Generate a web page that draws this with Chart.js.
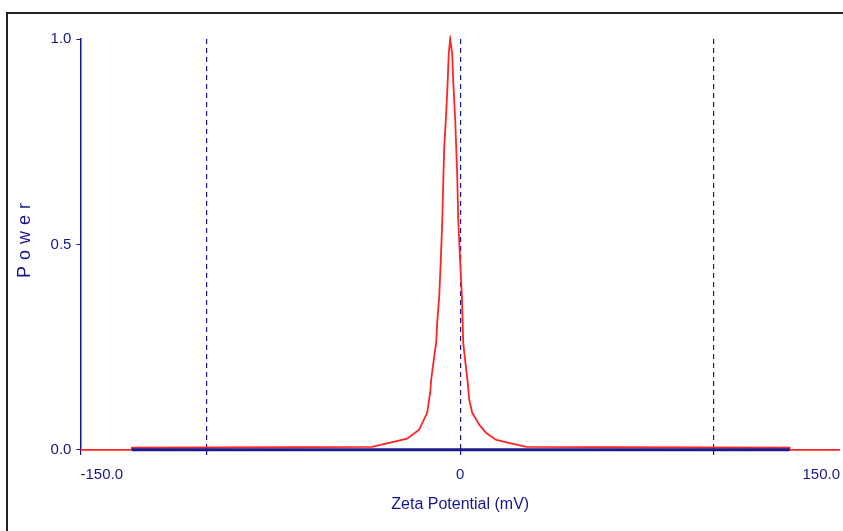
<!DOCTYPE html>
<html>
<head>
<meta charset="utf-8">
<script src="https://cdn.jsdelivr.net/npm/chart.js@4.4.1/dist/chart.umd.min.js"></script>
<style>
  html, body { margin: 0; padding: 0; background: #fff; overflow: hidden; }
  #frame { position: absolute; left: 6px; top: 12px; width: 900px; height: 600px;
           border-top: 2px solid #222; border-left: 2px solid #222; pointer-events: none; }
  canvas { position: absolute; left: 0; top: 0; }
</style>
</head>
<body>
<canvas id="zetaChart" width="848" height="531"></canvas>
<div id="frame"></div>
<script>
// zeta potential distribution
const ZETA = [-150, -129.7, -129.7, -34.8, -28.1, -21.0, -16.2, -13.05, -11.87, -11.47,
  -10.09, -9.49, -9.10, -8.31, -7.71, -7.12, -6.72, -6.33, -5.54, -4.94, -4.55, -3.96,
  -3.16, -2.77, -1.98, -1.19, -0.79, 0, 0.67, 1.19, 2.37, 2.97, 3.56, 4.75, 7.52, 10.28,
  14.24, 20.57, 26.11, 130.1, 130.1, 150];
const POWER = [0, 0, 0.005, 0.007, 0.017, 0.027, 0.049, 0.090, 0.139, 0.170,
  0.236, 0.260, 0.309, 0.372, 0.455, 0.552, 0.647, 0.735, 0.820, 0.898, 0.963, 1.0,
  0.963, 0.898, 0.803, 0.669, 0.560, 0.455, 0.372, 0.260, 0.195, 0.163, 0.122, 0.090, 0.061, 0.041,
  0.024, 0.015, 0.007, 0.005, 0, 0];

// blue base band
const BASE_X = [-129.7, 130.1];
const BASE_Y = [0, 0];

const X_TICKS = [-150, -100, 0, 100, 150];
const X_LABELS = ['-150.0', '', '0', '', '150.0'];
const DASHED_AT = [-100, 0, 100];
const Y_TICKS = [0, 0.5, 1];
const Y_LABELS = ['0.0', '0.5', '1.0'];

const NAVY = '#16168c';

const ctx = document.getElementById('zetaChart').getContext('2d');

// spread out the letters of the y title like the original
const spacedTitle = {
  id: 'spacedTitle',
  beforeDraw(chart) {
    const s = chart.scales.y;
    if (s._spaced) return;
    const orig = s.drawTitle;
    s.drawTitle = function () {
      this.ctx.save();
      this.ctx.letterSpacing = '6px';
      this.ctx.translate(0, -7);
      orig.apply(this, arguments);
      this.ctx.restore();
    };
    s._spaced = true;
  }
};

new Chart(ctx, {
  type: 'scatter',
  data: {
    datasets: [
      {
        data: BASE_X.map((x, i) => ({ x, y: BASE_Y[i] })),
        showLine: true,
        borderColor: '#1a1a8a',
        borderWidth: 3,
        pointRadius: 0,
        clip: 4
      },
      {
        data: ZETA.map((x, i) => ({ x, y: POWER[i] })),
        showLine: true,
        borderColor: '#ff2424',
        borderWidth: 1.8,
        pointRadius: 0,
        tension: 0,
        clip: 4
      }
    ]
  },
  options: {
    responsive: false,
    animation: false,
    layout: { padding: { left: 10, top: 39, right: 0, bottom: 17 } },
    plugins: { legend: { display: false }, tooltip: { enabled: false } },
    scales: {
      x: {
        type: 'linear',
        min: -150, max: 150,
        afterBuildTicks: scale => { scale.ticks = X_TICKS.map(v => ({ value: v })); },
        ticks: {
          align: 'inner',
          padding: 8,
          color: NAVY,
          font: { family: 'Liberation Sans, Arial', size: 15 },
          callback: (v) => X_LABELS[X_TICKS.indexOf(v)]
        },
        grid: {
          color: c => DASHED_AT.includes(c.tick.value) ? NAVY : 'rgba(0,0,0,0)',
          tickColor: c => (DASHED_AT.includes(c.tick.value) || c.tick.value === -150) ? NAVY : 'rgba(0,0,0,0)',
          lineWidth: 1.2,
          tickLength: 8,
          tickBorderDash: [5, 4]
        },
        border: { display: false, dash: [5, 4] },
        title: {
          display: true,
          text: 'Zeta Potential (mV)',
          color: NAVY,
          font: { family: 'Liberation Sans, Arial', size: 16 },
          padding: { top: 3, bottom: 0 }
        }
      },
      y: {
        min: 0, max: 1,
        afterBuildTicks: scale => { scale.ticks = Y_TICKS.map(v => ({ value: v })); },
        ticks: {
          padding: 5,
          color: NAVY,
          font: { family: 'Liberation Sans, Arial', size: 15 },
          callback: (v) => Y_LABELS[Y_TICKS.indexOf(v)]
        },
        grid: { drawOnChartArea: false, tickLength: 4, tickColor: NAVY },
        border: { display: true, color: NAVY, width: 1.5 },
        title: {
          display: true,
          text: 'Power',
          color: NAVY,
          font: { family: 'Liberation Sans, Arial', size: 18 },
          padding: { top: 4, bottom: 10 }
        }
      }
    }
  },
  plugins: [spacedTitle]
});
</script>
</body>
</html>
